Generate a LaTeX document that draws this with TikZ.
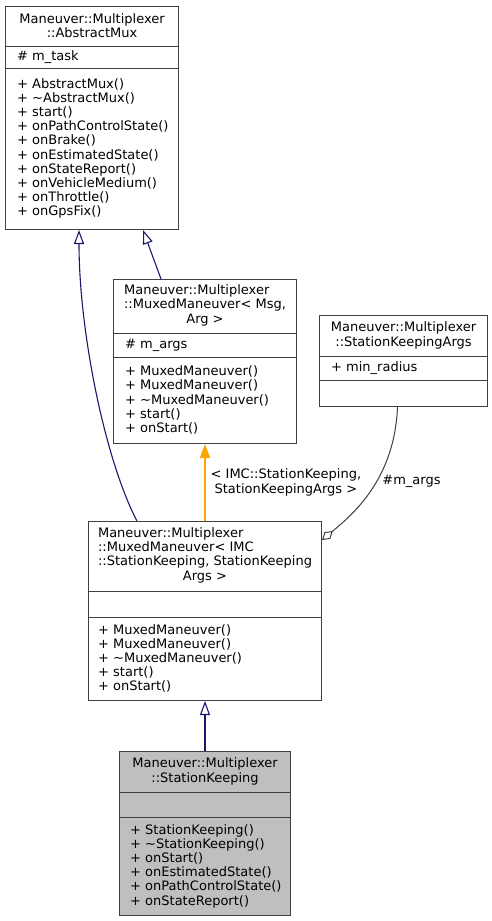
\documentclass[tikz,border=0pt]{standalone}
\usepackage{fontspec}
\setmainfont{DejaVu Sans}
\usetikzlibrary{arrows.meta,positioning,calc}
\definecolor{edgeblue}{RGB}{25,25,112}
\definecolor{edgeorange}{RGB}{255,165,0}
\definecolor{boxgray}{RGB}{64,64,64}
\definecolor{fillgray}{RGB}{191,191,191}

\begin{document}
\begin{tikzpicture}[x=1pt, y=-1pt,
    every node/.style={font=\fontsize{13}{14.2}\selectfont},
    classbox/.style={draw=boxgray, fill=white, line width=1pt, anchor=north west, inner sep=0pt},
    sepline/.style={draw=boxgray, line width=1pt},
    classname/.style={inner sep=0pt, align=center},
    members/.style={inner sep=0pt, align=left, anchor=west},
    inherit/.style={draw=edgeblue, line width=1.1pt, -{Triangle[open, length=14pt, width=10pt]}},
    templ/.style={draw=edgeorange, line width=1.3pt, -{Triangle[length=14pt, width=10pt, fill=edgeorange]}},
    usage/.style={draw=boxgray, line width=1pt, {Diamond[open, length=14pt, width=9pt]}-},
    edgelabel/.style={inner sep=0pt, align=center}]
    \path[fill=white, use as bounding box] (0,0) rectangle (492,921);

    % Maneuver::Multiplexer::AbstractMux
    \node[classbox, minimum width=173pt, minimum height=223pt] (amux) at (5,6) {};
    \draw[sepline] ([yshift=-40pt]amux.north west) -- ([yshift=-40pt]amux.north east);
    \draw[sepline] ([yshift=-62pt]amux.north west) -- ([yshift=-62pt]amux.north east);
    \node[classname] (amuxname) at ([yshift=-20pt]amux.north) {Maneuver::Multiplexer\\::AbstractMux};
    \node[members] (amuxattr) at ([xshift=12pt, yshift=-51pt]amux.north west) {\# m\_task};
    \node[members] (amuxops) at ([xshift=12pt, yshift=-142.5pt]amux.north west) {
      + AbstractMux()\\+ \textasciitilde AbstractMux()\\+ start()\\+ onPathControlState()\\+ onBrake()\\
      + onEstimatedState()\\+ onStateReport()\\+ onVehicleMedium()\\+ onThrottle()\\+ onGpsFix()
    };

    % MuxedManeuver< Msg, Arg >
    \node[classbox, minimum width=183pt, minimum height=164pt] (mmmsg) at (113,279) {};
    \draw[sepline] ([yshift=-54pt]mmmsg.north west) -- ([yshift=-54pt]mmmsg.north east);
    \draw[sepline] ([yshift=-78pt]mmmsg.north west) -- ([yshift=-78pt]mmmsg.north east);
    \node[classname] (mmmsgname) at ([yshift=-27pt]mmmsg.north) {\begin{tabular}{@{}l@{}}
      Maneuver::Multiplexer\\::MuxedManeuver< Msg,\\\multicolumn{1}{@{}c@{}}{Arg >}\end{tabular}};
    \node[members] (mmmsgattr) at ([xshift=12pt, yshift=-66pt]mmmsg.north west) {\# m\_args};
    \node[members] (mmmsgops) at ([xshift=12pt, yshift=-121pt]mmmsg.north west) {
      + MuxedManeuver()\\+ MuxedManeuver()\\+ \textasciitilde MuxedManeuver()\\+ start()\\+ onStart()
    };

    % StationKeepingArgs
    \node[classbox, minimum width=168pt, minimum height=91pt] (skargs) at (319,315) {};
    \draw[sepline] ([yshift=-41pt]skargs.north west) -- ([yshift=-41pt]skargs.north east);
    \draw[sepline] ([yshift=-65pt]skargs.north west) -- ([yshift=-65pt]skargs.north east);
    \node[classname] (skargsname) at ([yshift=-20.5pt]skargs.north) {Maneuver::Multiplexer\\::StationKeepingArgs};
    \node[members] (skargsattr) at ([xshift=12pt, yshift=-53pt]skargs.north west) {+ min\_radius};

    % MuxedManeuver< IMC::StationKeeping, StationKeepingArgs >
    \node[classbox, minimum width=233pt, minimum height=179pt] (mmimc) at (88,521) {};
    \draw[sepline] ([yshift=-70pt]mmimc.north west) -- ([yshift=-70pt]mmimc.north east);
    \draw[sepline] ([yshift=-96pt]mmimc.north west) -- ([yshift=-96pt]mmimc.north east);
    \node[classname] (mmimcname) at ([yshift=-35pt]mmimc.north) {\begin{tabular}{@{}l@{}}
      Maneuver::Multiplexer\\::MuxedManeuver< IMC\\::StationKeeping, StationKeeping\\
      \multicolumn{1}{@{}c@{}}{Args >}\end{tabular}};
    \node[members] (mmimcops) at ([xshift=10pt, yshift=-137.5pt]mmimc.north west) {
      + MuxedManeuver()\\+ MuxedManeuver()\\+ \textasciitilde MuxedManeuver()\\+ start()\\+ onStart()
    };

    % StationKeeping
    \node[classbox, fill=fillgray, minimum width=171pt, minimum height=164pt] (skeep) at (119,751) {};
    \draw[sepline] ([yshift=-41pt]skeep.north west) -- ([yshift=-41pt]skeep.north east);
    \draw[sepline] ([yshift=-66pt]skeep.north west) -- ([yshift=-66pt]skeep.north east);
    \node[classname] (skeepname) at ([yshift=-20.5pt]skeep.north) {Maneuver::Multiplexer\\::StationKeeping};
    \node[members] (skeepops) at ([xshift=11pt, yshift=-115pt]skeep.north west) {
      + StationKeeping()\\+ \textasciitilde StationKeeping()\\+ onStart()\\+ onEstimatedState()\\
      + onPathControlState()\\+ onStateReport()
    };

    % relations
    \draw[inherit] ([xshift=49pt]mmimc.north west) .. controls +(-32,-61) and +(0,101) .. ([xshift=74pt]amux.south west);
    \draw[inherit] ([xshift=48pt]mmmsg.north west) -- ([xshift=138pt]amux.south west);
    \draw[templ] (mmimc.north) -- node[edgelabel, right=5pt] (imclabel) {< IMC::StationKeeping,\\ StationKeepingArgs >} (mmmsg.south);
    \draw[usage] ([yshift=-19pt]mmimc.north east) .. controls +(30,-25) and +(-3,73) .. ([xshift=-6pt]skargs.south);
    \node[edgelabel] (argslabel) at (411.5,481) {\#m\_args};
    \draw[inherit] (skeep.north) -- (mmimc.south);
  \end{tikzpicture}
\end{document}
